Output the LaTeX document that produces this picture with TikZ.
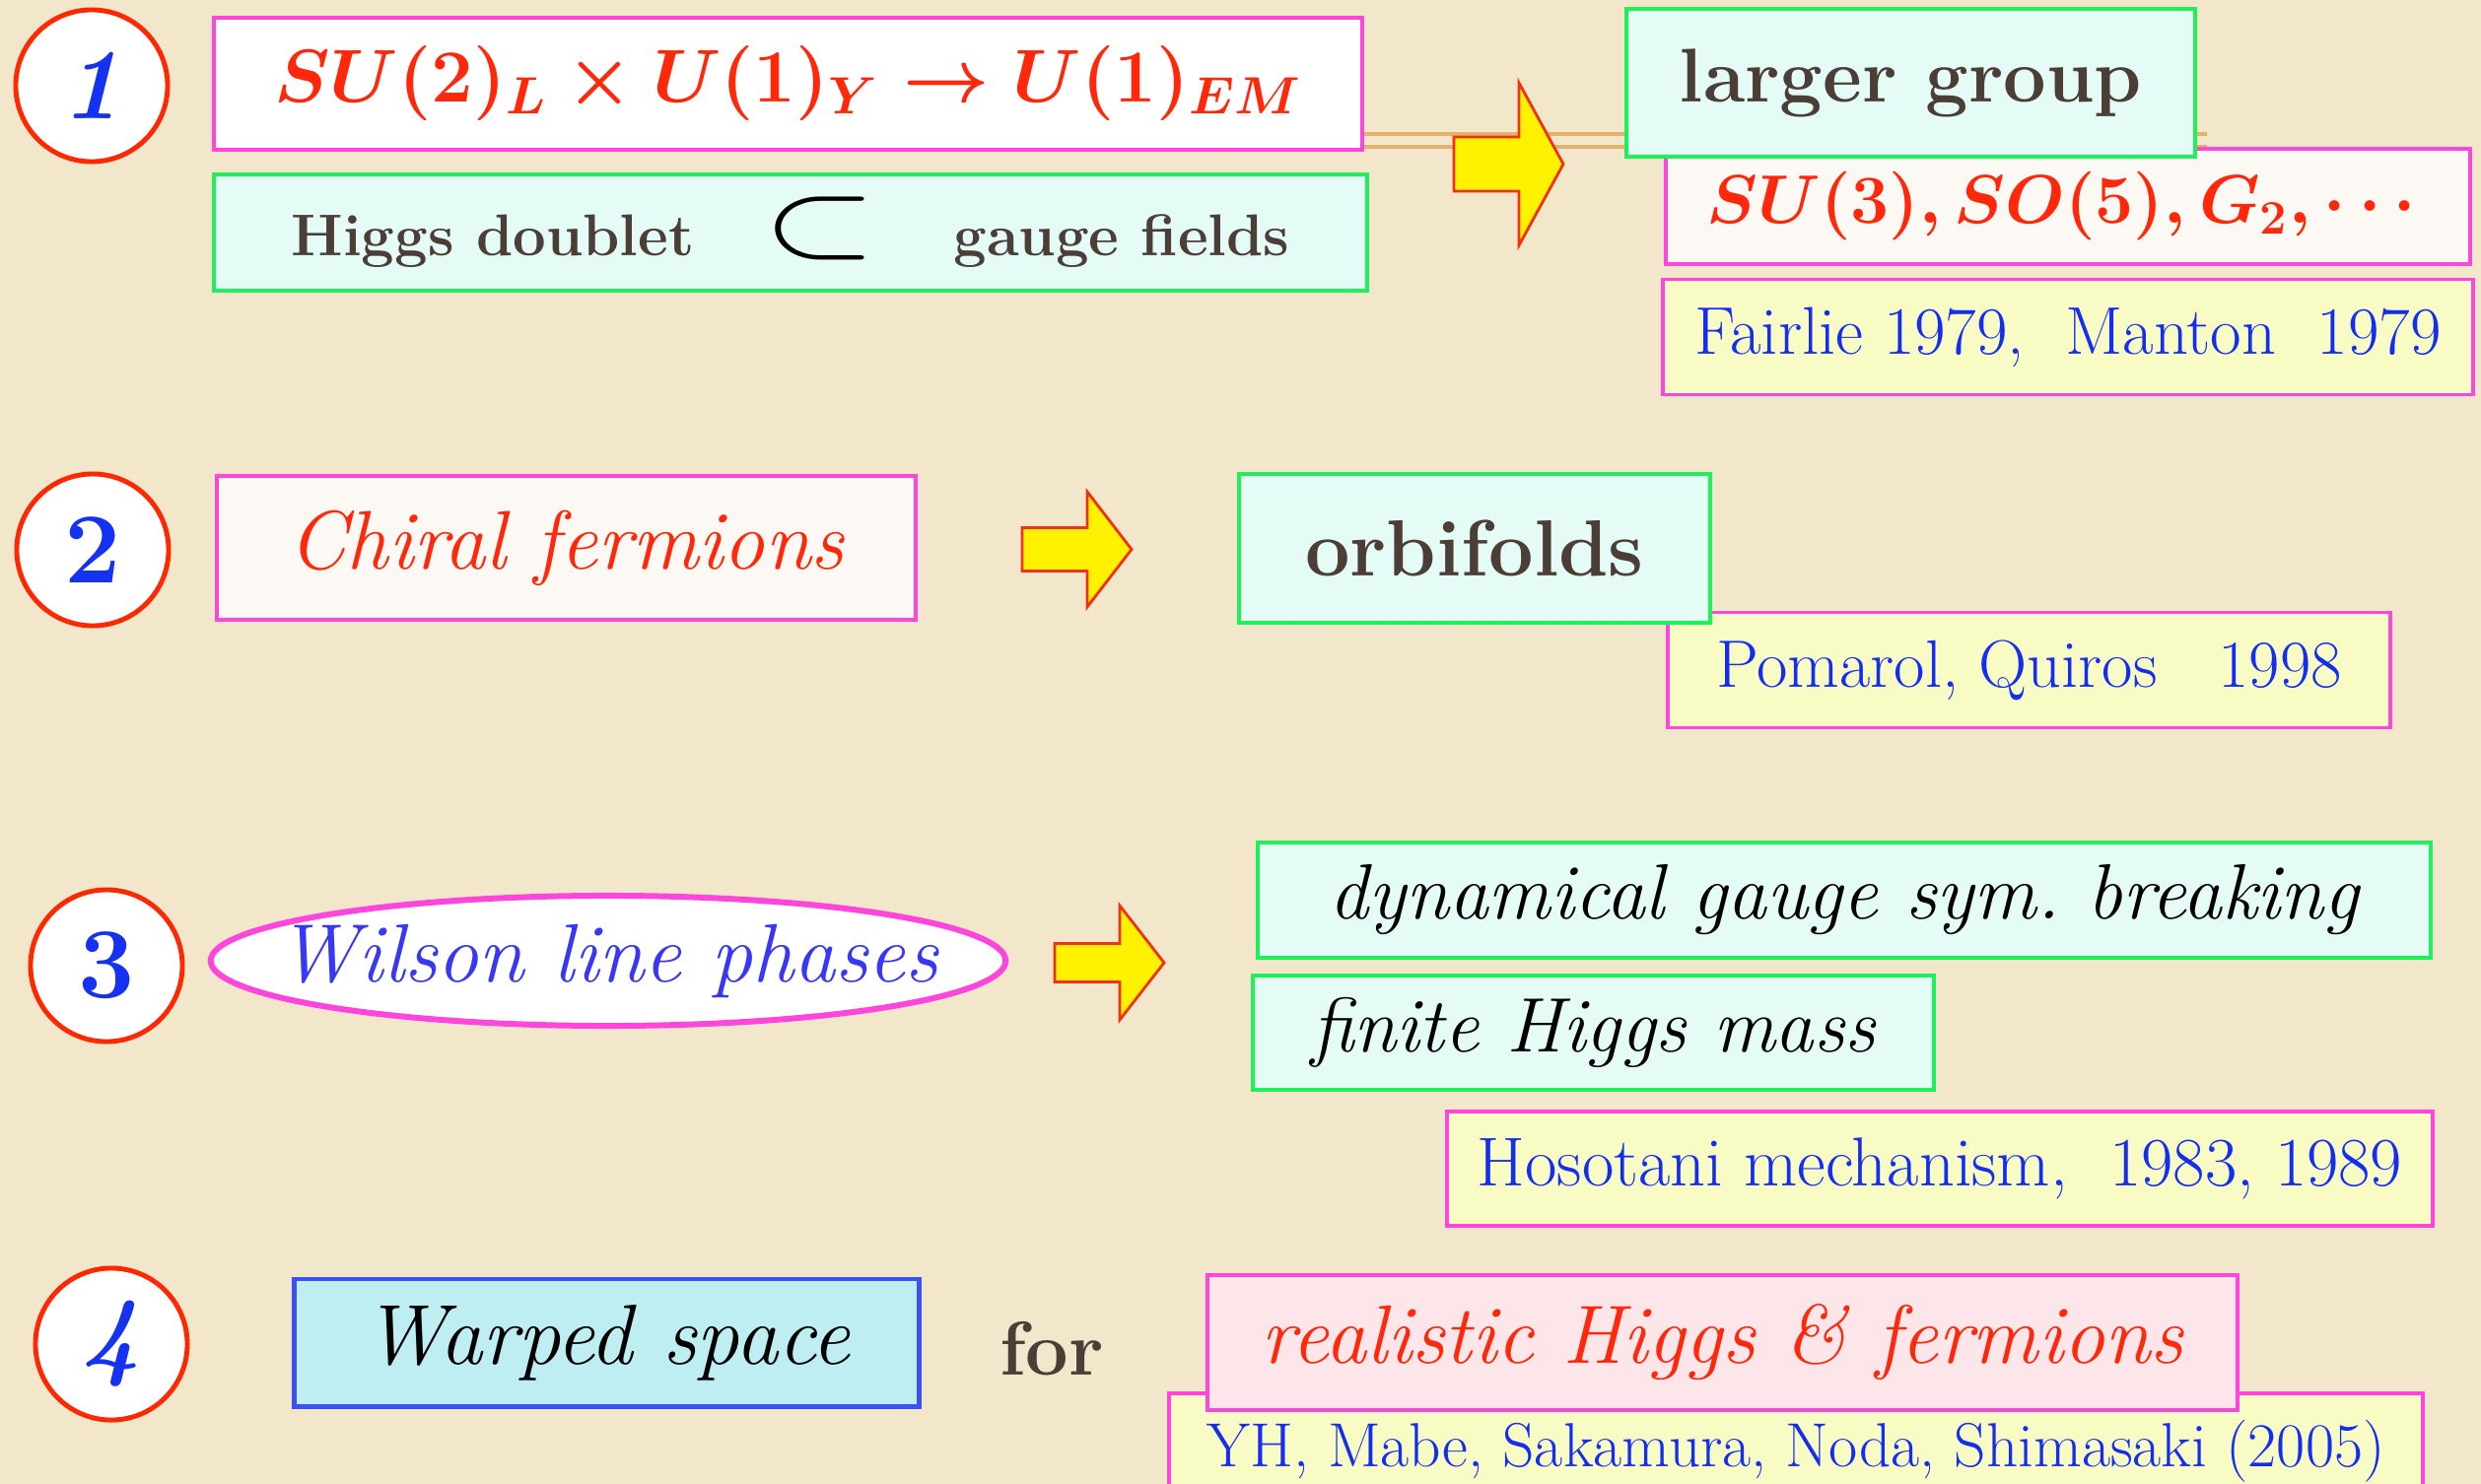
\RequirePackage{fix-cm}
\documentclass[tikz,border=0pt]{standalone}
\usepackage{fontspec}
\usepackage{amsmath}
\usepackage{graphicx}
\usepackage{tikz}
\usetikzlibrary{shapes.geometric}
\definecolor{paper}{RGB}{242,231,202}
\definecolor{numred}{RGB}{255,40,0}
\definecolor{numblue}{RGB}{20,50,240}
\definecolor{boxpink}{RGB}{255,70,220}
\definecolor{boxgreen}{RGB}{30,240,90}
\definecolor{boxblue}{RGB}{60,80,245}
\definecolor{palecyan}{RGB}{228,252,245}
\definecolor{paleyellow}{RGB}{248,252,196}
\definecolor{palepink}{RGB}{253,230,234}
\definecolor{skycyan}{RGB}{190,238,242}
\definecolor{offwhite}{RGB}{252,249,244}
\definecolor{txtbrown}{RGB}{74,62,54}
\definecolor{txtred}{RGB}{255,40,10}
\definecolor{txtblue}{RGB}{20,45,240}
\definecolor{wilsonblue}{RGB}{55,55,245}
\definecolor{linetan}{RGB}{225,178,110}
\definecolor{arrowred}{RGB}{240,50,20}
\newcommand{\fsz}[1]{\fontsize{#1}{#1}\selectfont}
\tikzset{
  numcircle/.style={circle, draw=numred, line width=1.4pt, fill=white,
    minimum size=1.54cm, inner sep=0pt, text=numblue},
  pinkbox/.style={draw=boxpink, line width=1.1pt, inner sep=0pt},
  greenbox/.style={draw=boxgreen, line width=1.1pt, fill=palecyan, inner sep=0pt, text=txtbrown},
  refbox/.style={draw=boxpink, line width=1.1pt, fill=paleyellow, inner sep=0pt, text=txtblue},
  bluebox/.style={draw=boxblue, line width=1.4pt, fill=skycyan, inner sep=0pt, text=black},
  wilsonoval/.style={ellipse, draw=boxpink, line width=1.7pt, fill=white,
    inner sep=0pt, minimum width=8.06cm, minimum height=1.32cm},
  blockarrow/.style={fill=yellow, draw=arrowred, line width=0.8pt, line join=miter},
  tanline/.style={draw=linetan, line width=1.1pt}
}
% yellow block arrow: left x, centre y, half head, half shaft
\newcommand{\yarrow}[4]{%
  \draw[blockarrow] (#1,{#2-#4}) -- ({#1+66},{#2-#4}) -- ({#1+66},{#2-#3})
    -- ({#1+111},#2) -- ({#1+66},{#2+#3}) -- ({#1+66},{#2+#4})
    -- (#1,{#2+#4}) -- cycle;}

\begin{document}
\begin{tikzpicture}[x=0.01cm,y=-0.01cm]
\fill[paper] (0,0) rectangle (2517,1506);
\useasboundingbox (0,0) rectangle (2517,1506);
\clip (0,0) rectangle (2517,1506);

% 1
\node[numcircle] (n1) at (93,87) {\fsz{29pt}\bfseries\itshape 1};
\node[pinkbox, fill=white, minimum width=11.65cm, minimum height=1.34cm, text=txtred] (su2) at (799.5,85) {\fsz{21.6pt}$\boldsymbol{SU(2)_L\times U(1)_Y\rightarrow U(1)_{EM}}$};
\node[greenbox, minimum width=11.70cm, minimum height=1.18cm] (higgs) at (802,236) {\fsz{17pt}\bfseries Higgs doublet\hspace{0.7cm}{\color{black}\fsz{28pt}\scalebox{1.5}[1.12]{$\subset$}}\hspace{0.78cm}gauge fields};
\coordinate (lnA) at (2239,136);
\coordinate (lnB) at (2239,149);
\draw[tanline] (su2.east |- lnA) -- (lnA);
\draw[tanline] (su2.east |- lnB) -- (lnB);
\yarrow{1475}{166.5}{82.5}{27.5}
\node[pinkbox, fill=offwhite, minimum width=8.16cm, minimum height=1.17cm, text=txtred] (su3) at (2098,209.5) {\fsz{19.8pt}$\boldsymbol{SU(3),SO(5),G_2,\cdots}$};
\node[greenbox, minimum width=5.77cm, minimum height=1.50cm] (larger) at (1938.5,84) {\fsz{22pt}\bfseries larger group};
\node[refbox, minimum width=8.22cm, minimum height=1.17cm] (fairlie) at (2098,342) {\fsz{19.5pt}Fairlie 1979,\ \ Manton\ \ 1979};

% 2
\node[numcircle] (n2) at (94,558) {\fsz{29pt}\bfseries 2};
\node[pinkbox, fill=offwhite, minimum width=7.09cm, minimum height=1.46cm, text=txtred] (chiral) at (574.5,556) {\fsz{24pt}\itshape Chiral fermions};
\yarrow{1037}{557.5}{58.5}{22}
\node[refbox, minimum width=7.33cm, minimum height=1.17cm] (pomarol) at (2058.5,680) {\fsz{19.4pt}Pomarol, Quiros\ \ \ 1998};
\node[greenbox, minimum width=4.78cm, minimum height=1.51cm] (orbi) at (1496,556.5) {\fsz{23pt}\bfseries orbifolds};

% 3
\node[numcircle] (n3) at (108,980) {\fsz{29pt}\bfseries 3};
\node[wilsonoval, label={[text=wilsonblue]center:{\fsz{23.9pt}\itshape Wilson line phases}}] (wilson) at (617,975) {};
\yarrow{1070}{977}{58}{19.5}
\node[greenbox, minimum width=11.90cm, minimum height=1.17cm, text=black] (dyn) at (1871,913.5) {\fsz{22.6pt}\itshape dynamical gauge sym.\ breaking};
\node[greenbox, minimum width=6.91cm, minimum height=1.16cm, text=black] (finite) at (1616.5,1048) {\fsz{22.3pt}\itshape finite Higgs mass};
\node[refbox, minimum width=10.00cm, minimum height=1.16cm] (hoso) at (1968,1186) {\fsz{20pt}Hosotani mechanism,\ \ 1983, 1989};

% 4
\node[numcircle] (n4) at (113,1364) {\fsz{29pt}\bfseries\itshape 4};
\node[bluebox, minimum width=6.33cm, minimum height=1.29cm] (warped) at (615.5,1362.5) {\fsz{24.6pt}\itshape Warped space};
\node[text=txtbrown] (for) at (1067,1369) {\fsz{22pt}\bfseries for};
\node[refbox, minimum width=12.72cm, minimum height=1.17cm] (yh) at (1822,1472.5) {\fsz{18pt}YH, Mabe, Sakamura, Noda, Shimasaki (2005)};
\node[pinkbox, fill=palepink, minimum width=10.45cm, minimum height=1.37cm, text=txtred] (real) at (1747.5,1362.5) {\fsz{23.9pt}\itshape realistic Higgs \& fermions};
\end{tikzpicture}
\end{document}
